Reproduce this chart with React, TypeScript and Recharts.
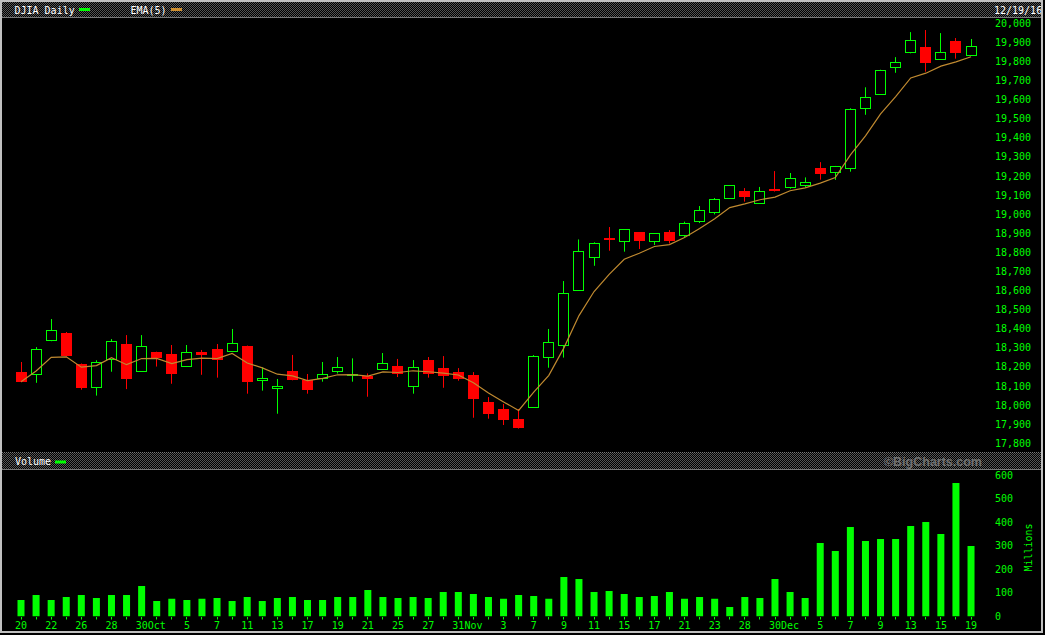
import React from "react";
import { ComposedChart, BarChart, Bar, Line, XAxis, YAxis } from "recharts";

// DJIA daily, 20 Sep 2016 - 19 Dec 2016
const days = [
  "09/20", "09/21", "09/22", "09/23", "09/26", "09/27", "09/28", "09/29", "09/30",
  "10/03", "10/04", "10/05", "10/06", "10/07", "10/10", "10/11", "10/12", "10/13", "10/14",
  "10/17", "10/18", "10/19", "10/20", "10/21", "10/24", "10/25", "10/26", "10/27", "10/28", "10/31",
  "11/01", "11/02", "11/03", "11/04", "11/07", "11/08", "11/09", "11/10", "11/11",
  "11/14", "11/15", "11/16", "11/17", "11/18", "11/21", "11/22", "11/23", "11/25",
  "11/28", "11/29", "11/30",
  "12/01", "12/02", "12/05", "12/06", "12/07", "12/08", "12/09",
  "12/12", "12/13", "12/14", "12/15", "12/16", "12/19",
];

const dayLabels = [
  "20", "", "22", "", "26", "", "28", "", "30",
  "Oct", "", "5", "", "7", "", "11", "", "13", "",
  "17", "", "19", "", "21", "", "25", "", "27", "", "31",
  "Nov", "", "3", "", "7", "", "9", "", "11",
  "", "15", "", "17", "", "21", "", "23", "",
  "28", "", "30",
  "Dec", "", "5", "", "7", "", "9",
  "", "13", "", "15", "", "19",
];

const opens = [
  18173, 18161, 18339, 18378, 18215, 18097, 18240, 18320, 18177,
  18278, 18268, 18203, 18278, 18294, 18282, 18310, 18130, 18088, 18179,
  18132, 18140, 18177, 18158, 18152, 18191, 18205, 18098, 18236, 18194, 18173,
  18158, 18016, 17980, 17927, 17992, 18250, 18313, 18601, 18778,
  18875, 18858, 18907, 18861, 18907, 18893, 18963, 19013, 19087,
  19120, 19060, 19132,
  19144, 19155, 19242, 19219, 19240, 19555, 19628,
  19769, 19848, 19874, 19811, 19906, 19832,
];

const highs = [
  18226, 18304, 18451, 18383, 18218, 18235, 18346, 18367, 18367,
  18280, 18315, 18315, 18289, 18320, 18399, 18312, 18198, 18137, 18263,
  18163, 18226, 18252, 18245, 18166, 18273, 18242, 18236, 18252, 18257, 18194,
  18173, 18042, 18006, 17980, 18262, 18399, 18650, 18868, 18853,
  18933, 18921, 18907, 18900, 18917, 18961, 19043, 19085, 19152,
  19137, 19143, 19226,
  19216, 19193, 19273, 19253, 19555, 19665, 19757,
  19823, 19954, 19965, 19949, 19923, 19918,
];

const lows = [
  18120, 18117, 18335, 18255, 18081, 18050, 18175, 18084, 18175,
  18202, 18112, 18200, 18159, 18144, 18280, 18060, 18076, 17955, 18130,
  18060, 18123, 18166, 18123, 18044, 18188, 18147, 18060, 18144, 18091, 18128,
  17934, 17929, 17896, 17877, 17990, 18196, 18249, 18598, 18730,
  18809, 18804, 18818, 18839, 18847, 18879, 18954, 18999, 19086,
  19066, 19055, 19119,
  19134, 19143, 19181, 19180, 19223, 19521, 19625,
  19741, 19843, 19747, 19810, 19815, 19830,
];

const closes = [
  18123, 18292, 18392, 18259, 18091, 18224, 18334, 18137, 18308,
  18249, 18165, 18277, 18264, 18238, 18324, 18123, 18142, 18098, 18133,
  18081, 18161, 18198, 18162, 18137, 18219, 18165, 18198, 18165, 18154, 18139,
  18034, 17955, 17924, 17882, 18256, 18329, 18586, 18806, 18847,
  18867, 18921, 18861, 18900, 18861, 18952, 19020, 19078, 19151,
  19092, 19120, 19120,
  19188, 19167, 19212, 19252, 19549, 19612, 19754,
  19796, 19911, 19790, 19848, 19843, 19879,
];

const ema5 = [
  18123, 18179, 18250, 18253, 18199, 18207, 18249, 18212, 18244,
  18245, 18218, 18238, 18246, 18244, 18271, 18221, 18195, 18162, 18153,
  18129, 18140, 18159, 18160, 18152, 18174, 18171, 18180, 18175, 18168, 18158,
  18117, 18063, 18017, 17972, 18068, 18156, 18300, 18469, 18595,
  18685, 18764, 18796, 18831, 18841, 18878, 18925, 18976, 19035,
  19054, 19076, 19090,
  19123, 19138, 19163, 19192, 19311, 19411, 19526,
  19616, 19714, 19739, 19776, 19798, 19825,
];

// millions of shares
const volumes = [
  70, 92, 70, 83, 92, 79, 92, 92, 130,
  66, 75, 70, 75, 79, 66, 83, 66, 79, 83,
  70, 70, 83, 83, 113, 83, 79, 83, 79, 104, 104,
  96, 83, 75, 92, 87, 75, 168, 160, 104,
  109, 96, 83, 87, 104, 75, 83, 75, 40,
  83, 79, 160,
  104, 79, 313, 279, 381, 321, 330,
  330, 385, 402, 351, 568, 300,
];

const priceTicks = [
  17800, 17900, 18000, 18100, 18200, 18300, 18400, 18500, 18600, 18700, 18800, 18900,
  19000, 19100, 19200, 19300, 19400, 19500, 19600, 19700, 19800, 19900, 20000,
];
const volumeTicks = [0, 100, 200, 300, 400, 500, 600];

const rows = days.map((day, i) => ({
  day,
  open: opens[i],
  high: highs[i],
  low: lows[i],
  close: closes[i],
  range: [lows[i], highs[i]],
  ema: ema5[i],
  volume: volumes[i],
}));

const GREEN = "#00ff00";
const RED = "#ff0000";
const EMA_COLOR = "#c08a30";
const MONO = "DejaVu Sans Mono, monospace";
const W = 1045;
const AXIS_W = 66.4;
const LEFT = 13.5;
const LABEL_X = 995;

function Candle(props: any) {
  const { x, y, width, height, payload } = props;
  if (x == null || !payload) return null;
  const top = Math.min(y, y + height);
  const h = Math.abs(height);
  const span = payload.high - payload.low;
  const k = span > 0 ? h / span : 0;
  const yOf = (v: number) => top + (payload.high - v) * k;
  const cx = Math.floor(x + width / 2) + 0.5;
  const up = payload.close >= payload.open;
  const color = up ? GREEN : RED;
  const bTop = yOf(Math.max(payload.open, payload.close));
  const bBot = yOf(Math.min(payload.open, payload.close));
  return (
    <g>
      <line x1={cx} x2={cx} y1={top} y2={top + h} stroke={color} strokeWidth={1} />
      {up ? (
        <rect
          x={cx - 5}
          y={Math.round(bTop) + 0.5}
          width={10}
          height={Math.max(Math.round(bBot) - Math.round(bTop), 1)}
          fill="#000"
          stroke={color}
          strokeWidth={1}
        />
      ) : (
        <rect
          x={cx - 5.5}
          y={Math.round(bTop)}
          width={11}
          height={Math.max(Math.round(bBot) - Math.round(bTop), 2)}
          fill={color}
        />
      )}
    </g>
  );
}

function PriceTick(props: any) {
  const { y, payload } = props;
  return (
    <text x={LABEL_X} y={y} dy={3.5} fill={GREEN} fontSize={10} fontFamily={MONO} textAnchor="start">
      {payload.value.toLocaleString("en-US")}
    </text>
  );
}

function VolumeTick(props: any) {
  const { y, payload } = props;
  return (
    <text x={LABEL_X} y={y} dy={3.5} fill={GREEN} fontSize={10} fontFamily={MONO} textAnchor="start">
      {payload.value}
    </text>
  );
}

function DayTick(props: any) {
  const { x, payload } = props;
  const idx = days.indexOf(payload.value);
  const label = dayLabels[idx];
  const cx = Math.floor(x) + 0.5;
  return (
    <g>
      <line x1={cx} x2={cx} y1={167} y2={169.5} stroke={GREEN} strokeWidth={1} />
      {label ? (
        <text x={x} y={178.5} fill={GREEN} fontSize={10} fontFamily={MONO} textAnchor="middle">
          {label}
        </text>
      ) : null}
    </g>
  );
}

export default function App() {
  return (
    <div style={{ position: "absolute", left: 0, top: 0, width: W, height: 635, background: "#000", overflow: "hidden" }}>
      <div style={{ position: "absolute", left: 0, top: 0 }}>
        <ComposedChart width={W} height={450} data={rows} margin={{ top: 18, right: 0, bottom: 0, left: LEFT }}>
          <XAxis dataKey="day" hide />
          <YAxis
            orientation="right"
            width={AXIS_W}
            domain={[17765, 20028]}
            ticks={priceTicks}
            allowDataOverflow
            axisLine={false}
            tickLine={false}
            tickSize={0}
            tickMargin={0}
            interval={0}
            tick={<PriceTick />}
          />
          <Bar dataKey="range" barSize={11} shape={<Candle />} isAnimationActive={false} />
          <Line
            dataKey="ema"
            type="linear"
            dot={false}
            activeDot={false}
            stroke={EMA_COLOR}
            strokeWidth={1.2}
            isAnimationActive={false}
          />
        </ComposedChart>
      </div>
      <div style={{ position: "absolute", left: 0, top: 450 }}>
        <BarChart width={W} height={185} data={rows} margin={{ top: 20, right: 0, bottom: 0, left: LEFT }}>
          <XAxis
            dataKey="day"
            height={18.5}
            axisLine={false}
            tickLine={false}
            tickSize={0}
            tickMargin={0}
            interval={0}
            tick={<DayTick />}
          />
          <YAxis
            orientation="right"
            width={AXIS_W}
            domain={[0, 623.4]}
            ticks={volumeTicks}
            allowDataOverflow
            axisLine={false}
            tickLine={false}
            tickSize={0}
            tickMargin={0}
            interval={0}
            tick={<VolumeTick />}
          />
          <Bar dataKey="volume" barSize={7} fill={GREEN} isAnimationActive={false} />
        </BarChart>
      </div>
      <svg width={W} height={635} style={{ position: "absolute", left: 0, top: 0, pointerEvents: "none" }}>
        <defs>
          <pattern id="hatch" width={2} height={2} patternUnits="userSpaceOnUse">
            <rect width={2} height={2} fill="#000" />
            <rect width={1} height={1} fill="#555" />
            <rect x={1} y={1} width={1} height={1} fill="#555" />
          </pattern>
        </defs>
        {/* price header */}
        <rect x={2} y={2} width={1040} height={15} fill="url(#hatch)" />
        <line x1={2} x2={1042} y1={17.5} y2={17.5} stroke="#7a7a7a" />
        <text x={14.5} y={13.5} fill="#fff" fontSize={10} fontFamily={MONO}>DJIA Daily</text>
        <rect x={79} y={8} width={11} height={3} fill={GREEN} />
        <text x={130.5} y={13.5} fill="#fff" fontSize={10} fontFamily={MONO}>EMA(5)</text>
        <rect x={171} y={8} width={11} height={3} fill="#d09030" />
        <text x={994} y={13.5} fill="#fff" fontSize={10} fontFamily={MONO}>12/19/16</text>
        {/* volume header */}
        <rect x={2} y={452} width={1040} height={17} fill="url(#hatch)" />
        <line x1={2} x2={1042} y1={452.5} y2={452.5} stroke="#7a7a7a" strokeDasharray="1 1" />
        <line x1={2} x2={1042} y1={469.5} y2={469.5} stroke="#7a7a7a" />
        <text x={15} y={465} fill="#fff" fontSize={10} fontFamily={MONO}>Volume</text>
        <rect x={55} y={460.5} width={11} height={3} fill={GREEN} />
        <text
          x={982}
          y={465.5}
          fill="#707070"
          fontSize={12.5}
          fontWeight="bold"
          fontFamily="Liberation Sans, sans-serif"
          textAnchor="end"
        >
          ©BigCharts.com
        </text>
        <text
          x={1028.5}
          y={547.5}
          fill={GREEN}
          fontSize={10}
          fontFamily={MONO}
          textAnchor="middle"
          dominantBaseline="central"
          transform="rotate(-90 1028.5 547.5)"
        >
          Millions
        </text>
        {/* frame */}
        <rect x={1} y={1} width={1041} height={631} fill="none" stroke="#c0c0c0" strokeWidth={2} />
      </svg>
    </div>
  );
}
